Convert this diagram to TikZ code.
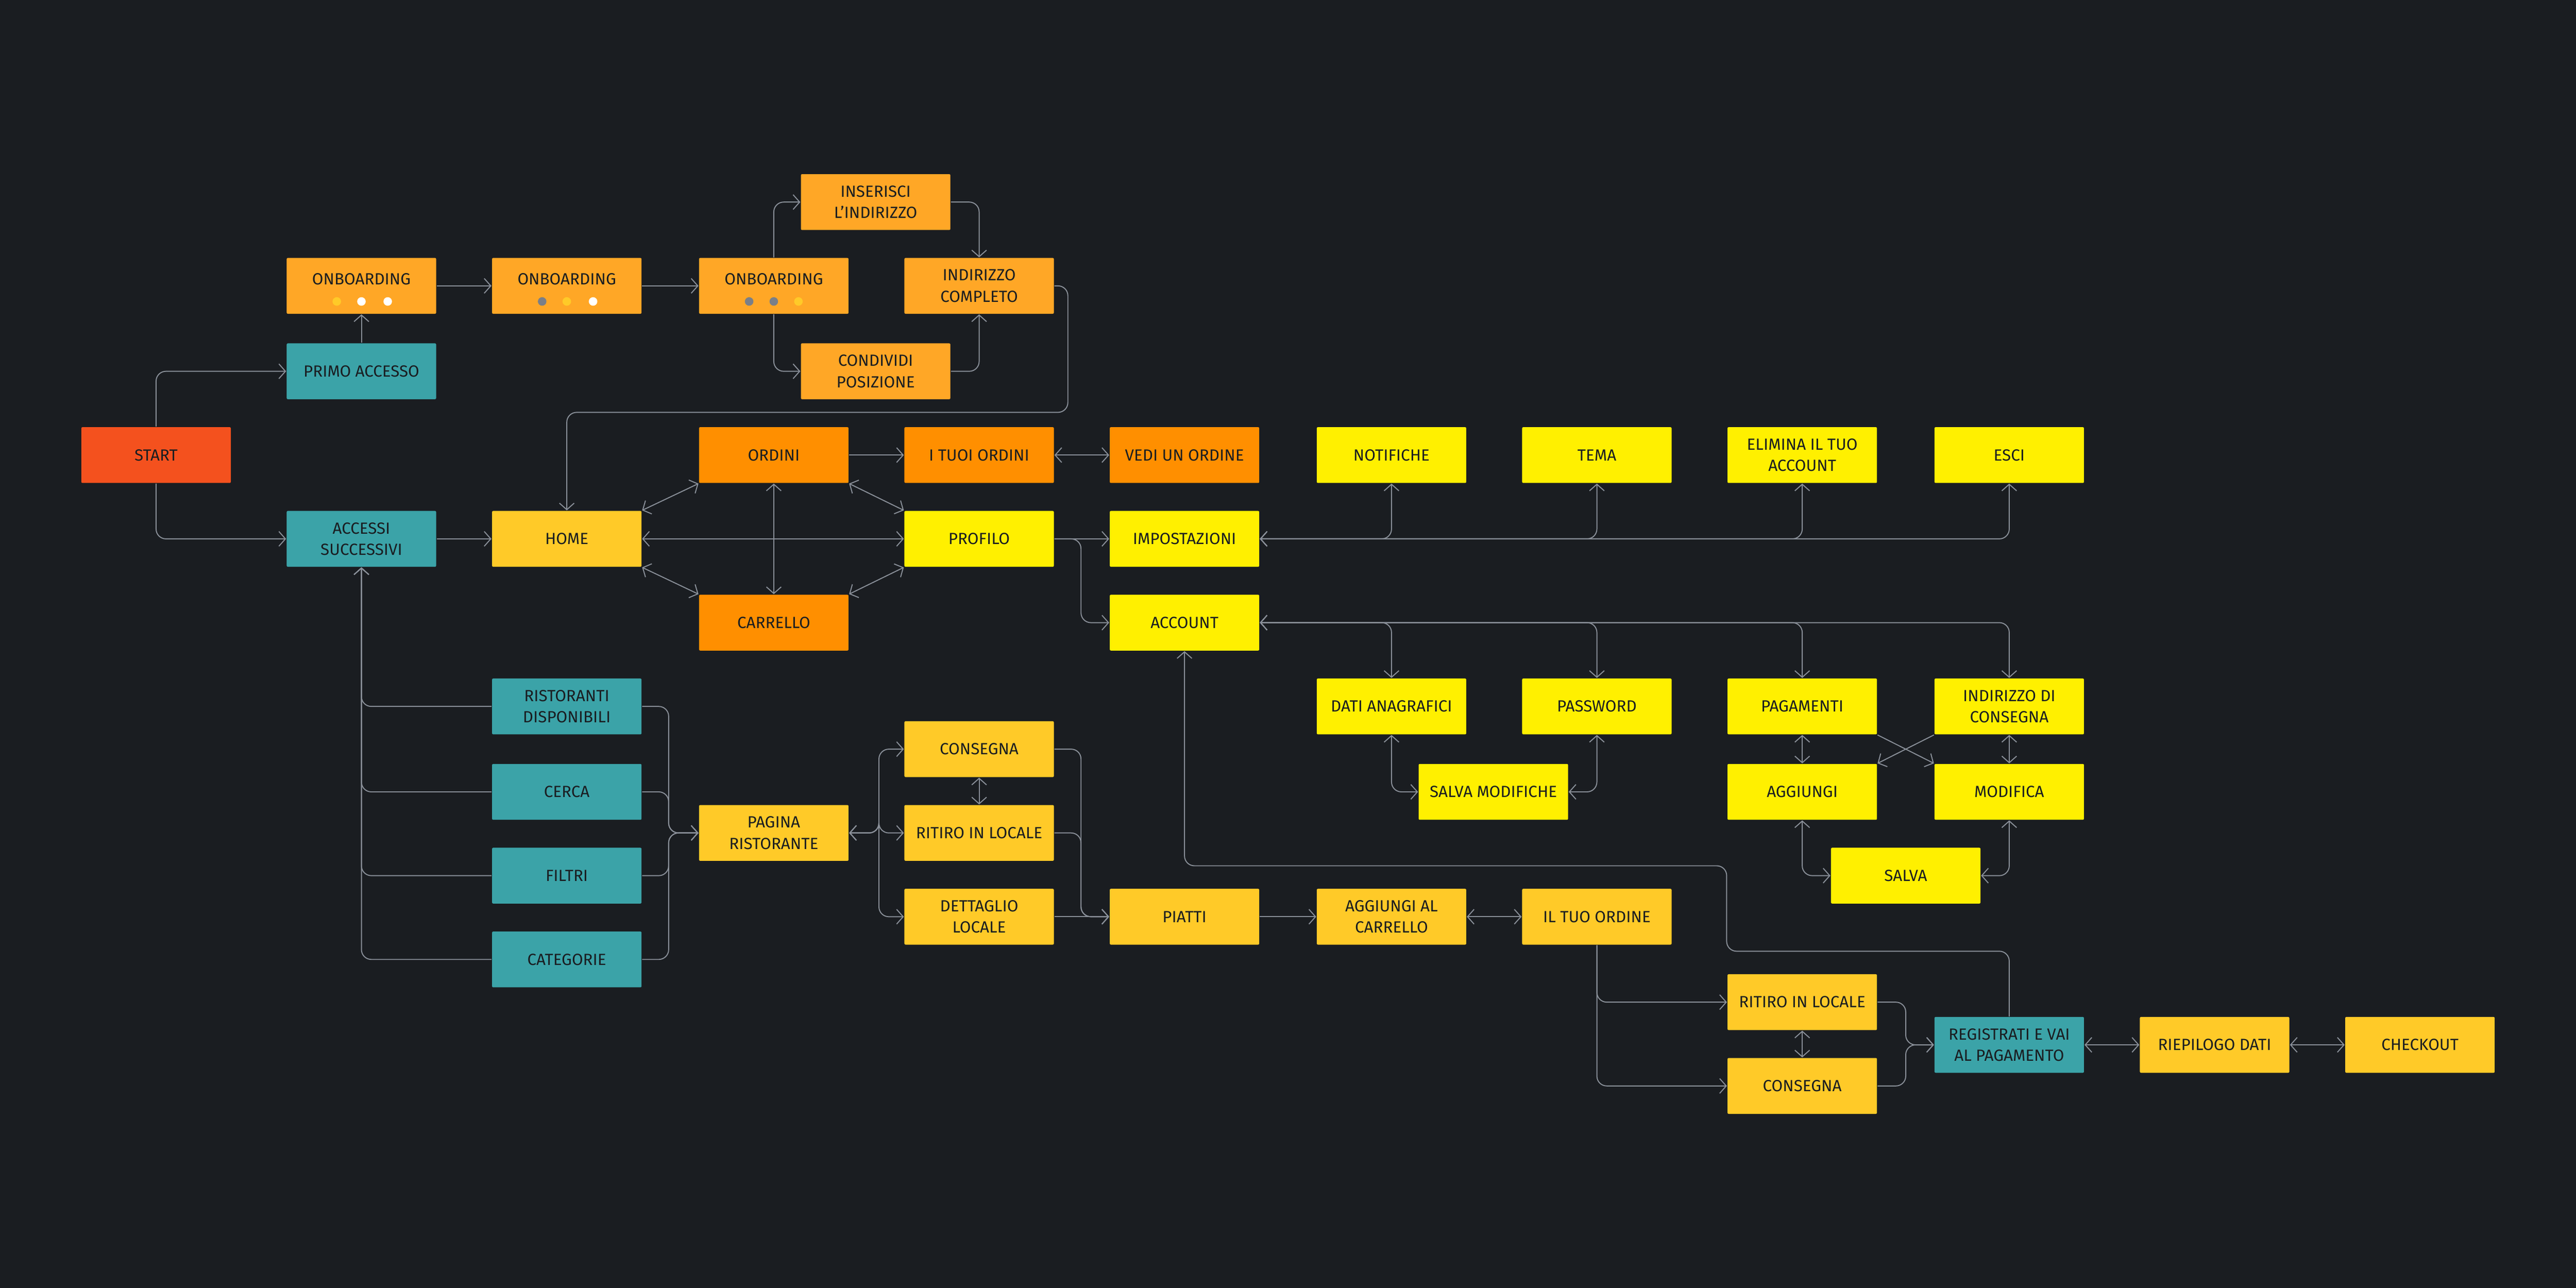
\documentclass[tikz,border=0pt]{standalone}
\usepackage{fontspec}
\setmainfont{Fira Sans}
\usetikzlibrary{arrows.meta}
\definecolor{bg}{HTML}{1A1D21}
\definecolor{cred}{HTML}{F4511E}
\definecolor{cteal}{HTML}{3BA3A8}
\definecolor{conb}{HTML}{FFA726}
\definecolor{cdark}{HTML}{FF8F00}
\definecolor{cmid}{HTML}{FFCA28}
\definecolor{cyel}{HTML}{FFF000}
\definecolor{cline}{HTML}{8A9099}
\definecolor{cdot}{HTML}{7A7F88}
\begin{document}
\begin{tikzpicture}[x=0.02cm,y=-0.02cm,
  box/.style={rectangle,rounded corners=0.4pt,minimum width=1.82cm,minimum height=0.68cm,inner sep=1pt,align=center,text=bg,font=\fontsize{5.6}{7.4}\selectfont},
  red/.style={box,fill=cred},teal/.style={box,fill=cteal},onb/.style={box,fill=conb},
  dk/.style={box,fill=cdark},md/.style={box,fill=cmid},yl/.style={box,fill=cyel},
  ln/.style={draw=cline,line width=0.35pt,rounded corners=1.2mm},
  >={Straight Barb[length=0.8mm,width=1.8mm]}]
\fill[bg] (0,0) rectangle (1568,784);
\useasboundingbox (0,0) rectangle (1568,784);
% nodes
\node[red] (start) at (95,277) {START};
\node[teal] (primo) at (220,226) {PRIMO ACCESSO};
\node[teal] (acc) at (220,328) {ACCESSI\\SUCCESSIVI};
\node[onb] (on1) at (220,174) {};
\node[onb] (on2) at (345,174) {};
\node[onb] (on3) at (471,174) {};
\foreach \n in {on1,on2,on3}{\node[font=\fontsize{5.6}{7}\selectfont,text=bg] at ([yshift=0.08cm]\n.center) {ONBOARDING};}
\foreach \x/\c in {205/cmid,220/white,236/white,330/cdot,345/cmid,361/white,456/cdot,471/cdot,486/cmid}{\fill[\c] (\x,183.5) circle (2.6);}
\node[onb] (ins) at (533,123) {INSERISCI\\L’INDIRIZZO};
\node[onb] (cond) at (533,226) {CONDIVIDI\\POSIZIONE};
\node[onb] (indc) at (596,174) {INDIRIZZO\\COMPLETO};
\node[md] (home) at (345,328) {HOME};
\node[dk] (ord) at (471,277) {ORDINI};
\node[dk] (car) at (471,379) {CARRELLO};
\node[yl] (prof) at (596,328) {PROFILO};
\node[dk] (tuoi) at (596,277) {I TUOI ORDINI};
\node[dk] (vedi) at (721,277) {VEDI UN ORDINE};
\node[yl] (imp) at (721,328) {IMPOSTAZIONI};
\node[yl] (acct) at (721,379) {ACCOUNT};
\node[yl] (not) at (847,277) {NOTIFICHE};
\node[yl] (tema) at (972,277) {TEMA};
\node[yl] (elim) at (1097,277) {ELIMINA IL TUO\\ACCOUNT};
\node[yl] (esci) at (1223,277) {ESCI};
\node[yl] (dati) at (847,430) {DATI ANAGRAFICI};
\node[yl] (pass) at (972,430) {PASSWORD};
\node[yl] (pag) at (1097,430) {PAGAMENTI};
\node[yl] (indc2) at (1223,430) {INDIRIZZO DI\\CONSEGNA};
\node[yl] (salvm) at (909,482) {SALVA MODIFICHE};
\node[yl] (agg) at (1097,482) {AGGIUNGI};
\node[yl] (mod) at (1223,482) {MODIFICA};
\node[yl] (salva) at (1160,533) {SALVA};
\node[teal] (rist) at (345,430) {RISTORANTI\\DISPONIBILI};
\node[teal] (cerca) at (345,482) {CERCA};
\node[teal] (filt) at (345,533) {FILTRI};
\node[teal] (cat) at (345,584) {CATEGORIE};
\node[md] (pagr) at (471,507) {PAGINA\\RISTORANTE};
\node[md] (cons) at (596,456) {CONSEGNA};
\node[md] (rit) at (596,507) {RITIRO IN LOCALE};
\node[md] (dett) at (596,558) {DETTAGLIO\\LOCALE};
\node[md] (piat) at (721,558) {PIATTI};
\node[md] (aggc) at (847,558) {AGGIUNGI AL\\CARRELLO};
\node[md] (tuo) at (972,558) {IL TUO ORDINE};
\node[md] (rit2) at (1097,610) {RITIRO IN LOCALE};
\node[md] (cons2) at (1097,661) {CONSEGNA};
\node[teal] (reg) at (1223,636) {REGISTRATI E VAI\\AL PAGAMENTO};
\node[md] (riep) at (1348,636) {RIEPILOGO DATI};
\node[md] (chk) at (1473,636) {CHECKOUT};
% connectors
\draw[ln,->] (start.north) |- (primo.west);
\draw[ln,->] (start.south) |- (acc.west);
\draw[ln,->] (primo) -- (on1);
\draw[ln,->] (on1) -- (on2);
\draw[ln,->] (on2) -- (on3);
\draw[ln,->] (on3.north) |- (ins.west);
\draw[ln,->] (on3.south) |- (cond.west);
\draw[ln,->] (ins.east) -| (indc.north);
\draw[ln,->] (cond.east) -| (indc.south);
\coordinate (k1) at (650,251);
\draw[ln,->] (indc.east) -| (k1) -| (home.north);
\draw[ln,->] (acc) -- (home);
\draw[ln,<->] (home.north east) -- (ord.south west);
\draw[ln,<->] (home.south east) -- (car.north west);
\draw[ln,<->] (home) -- (prof);
\draw[ln,<->] (ord) -- (car);
\draw[ln,<->] (ord.south east) -- (prof.north west);
\draw[ln,<->] (car.north east) -- (prof.south west);
\draw[ln,->] (ord) -- (tuoi);
\draw[ln,<->] (tuoi) -- (vedi);
\draw[ln,->] (prof) -- (imp);
\coordinate (k2) at (658,379);
\draw[ln,->] (prof.east) -| (k2) -- (acct.west);
\foreach \n in {not,tema,elim,esci}{\draw[ln,<->] (imp.east) -| (\n.south);}
\foreach \n in {dati,pass,pag,indc2}{\draw[ln,<->] (acct.east) -| (\n.north);}
\draw[ln,<->] (dati.south) |- (salvm.west);
\draw[ln,<->] (pass.south) |- (salvm.east);
\draw[ln,<->] (pag) -- (agg);
\draw[ln,<->] (indc2) -- (mod);
\draw[ln,->] (pag.south east) -- (mod.north west);
\draw[ln,->] (indc2.south west) -- (agg.north east);
\draw[ln,<->] (agg.south) |- (salva.west);
\draw[ln,<->] (mod.south) |- (salva.east);
\foreach \n in {rist,cerca,filt,cat}{
  \draw[ln,->] (\n.west) -| (acc.south);
  \draw[ln,->] (\n.east) -| (407,507) -- (pagr.west);}
\foreach \n in {cons,rit,dett}{\draw[ln,<->] (pagr.east) -| (535,507) |- (\n.west);}
\draw[ln,<->] (cons) -- (rit);
\draw[ln,->] (cons.east) -| (658,558) -- (piat.west);
\draw[ln,->] (rit.east) -| (658,558) -- (piat.west);
\draw[ln,->] (dett) -- (piat);
\draw[ln,->] (piat) -- (aggc);
\draw[ln,<->] (aggc) -- (tuo);
\draw[ln,->] (tuo.south) |- (rit2.west);
\draw[ln,->] (tuo.south) |- (cons2.west);
\draw[ln,<->] (rit2) -- (cons2);
\draw[ln,->] (rit2.east) -| (1160,636) -- (reg.west);
\draw[ln,->] (cons2.east) -| (1160,636) -- (reg.west);
\coordinate (k3) at (1051,579);
\coordinate (k4) at (721,527);
\draw[ln,->] (reg.north) |- (k3) |- (k4) -- (acct.south);
\draw[ln,<->] (reg) -- (riep);
\draw[ln,<->] (riep) -- (chk);
\end{tikzpicture}
\end{document}
